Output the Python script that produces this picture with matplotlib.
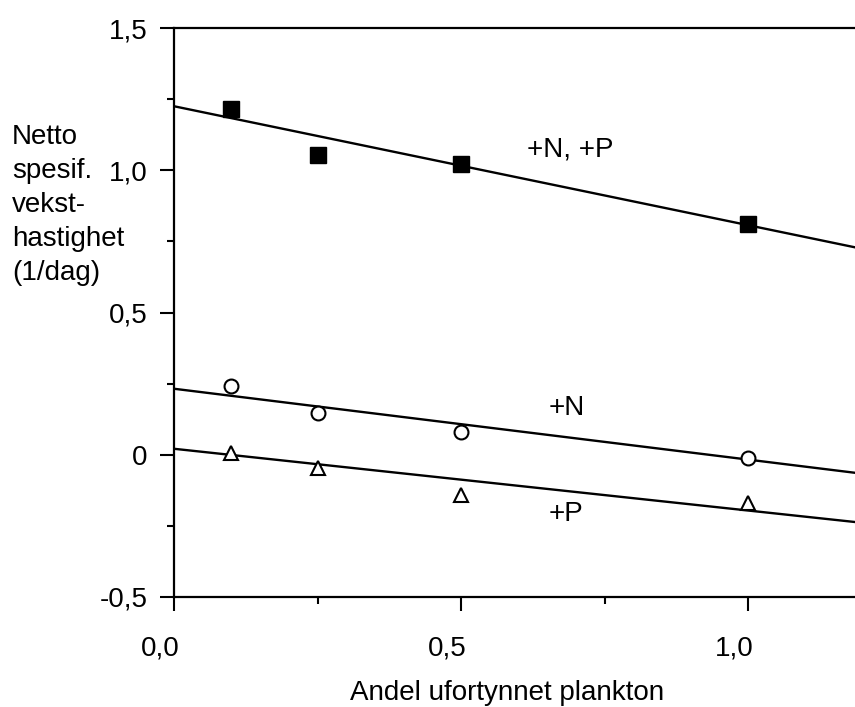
import numpy as np
import matplotlib
matplotlib.use('Agg')
import matplotlib.pyplot as plt
from matplotlib.transforms import ScaledTranslation
from matplotlib.ticker import FixedLocator

plt.rcParams['font.family'] = ['Liberation Sans', 'DejaVu Sans']

# andel ufortynnet plankton
andel = [0.1, 0.25, 0.5, 1.0]
# netto spesifikk veksthastighet (1/dag)
vekst_np = [1.215, 1.053, 1.021, 0.810]
vekst_n = [0.243, 0.148, 0.081, -0.011]
vekst_p = [0.007, -0.046, -0.141, -0.169]
# regresjonslinjer: skjaering og stigning
skj = [1.225, 0.232, 0.021]
stig = [-0.418, -0.249, -0.217]
etiketter = ['+N, +P', '+N', '+P']
etikett_x = [0.690, 0.685, 0.683]
etikett_y = [1.074, 0.166, -0.208]
ylabel_linjer = ['Netto', 'spesif.', 'vekst-', 'hastighet', '(1/dag)']

fig = plt.figure(figsize=(8.55, 7.07), dpi=100)
ax = fig.add_axes([174/855, 1-597/707, 1-174/855, (597-28)/707])

xs = np.array([0, 1.3])
for a, b in zip(skj, stig):
    ax.plot(xs, a + b*xs, color='black', lw=1.7)

ax.plot(andel, vekst_np, 's', color='black', ms=11)
ax.plot(andel, vekst_n, 'o', mfc='white', mec='black', mew=1.5, ms=10)
ax.plot(andel, vekst_p, '^', mfc='white', mec='black', mew=1.5, ms=10)

for t, x, y in zip(etiketter, etikett_x, etikett_y):
    ax.text(x, y, t, fontsize=20, ha='center', va='center')

ax.set_xlim(0, (855-174)/574)
ax.set_ylim(-0.5, 1.5)
ax.set_xticks([0, 0.5, 1.0])
ax.set_xticklabels(['0,0', '0,5', '1,0'])
ax.set_yticks([-0.5, 0, 0.5, 1.0, 1.5])
ax.set_yticklabels(['-0,5', '0', '0,5', '1,0', '1,5'])
ax.xaxis.set_minor_locator(FixedLocator([0.25, 0.75]))
ax.yaxis.set_minor_locator(FixedLocator([-0.25, 0.25, 0.75, 1.25]))
ax.tick_params(which='major', direction='out', length=10, width=1.5, labelsize=20)
ax.tick_params(axis='x', which='major', pad=18)
ax.tick_params(axis='y', which='major', pad=9)
ax.tick_params(which='minor', direction='out', length=5, width=1.5)
for lab in ax.get_xticklabels():
    lab.set_transform(lab.get_transform() + ScaledTranslation(-14/100, 0, fig.dpi_scale_trans))

ax.spines['right'].set_visible(False)
for s in ['left', 'bottom', 'top']:
    ax.spines[s].set_linewidth(1.6)

# y-aksetittel, en linje om gangen
for i, linje in enumerate(ylabel_linjer):
    fig.text(12/855, 1-(137+34*i)/707, linje, fontsize=20, ha='left', va='center')
fig.text(507/855, 1-693/707, 'Andel ufortynnet plankton', fontsize=20,
         ha='center', va='center')

fig.savefig('out.png', dpi=100)
